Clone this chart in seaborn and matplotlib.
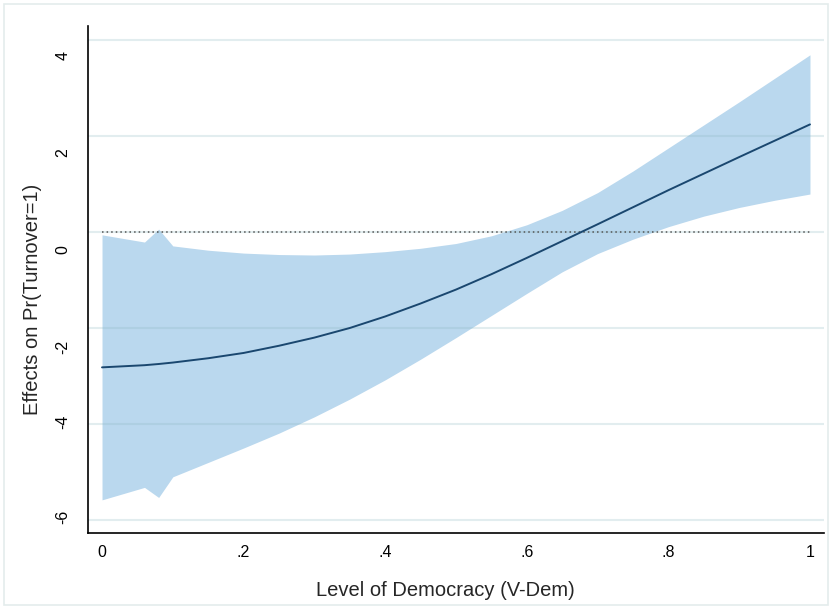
import numpy as np
import pandas as pd
import matplotlib
matplotlib.use("Agg")
import matplotlib.pyplot as plt
import seaborn as sns
from matplotlib.transforms import ScaledTranslation
from matplotlib.patches import Rectangle

# ---- data ----
democracy = [0.00, 0.06, 0.08, 0.10, 0.15, 0.20, 0.25, 0.30, 0.35, 0.40, 0.45,
             0.50, 0.55, 0.60, 0.65, 0.70, 0.75, 0.80, 0.85, 0.90, 0.95, 1.00]
effect = [-2.82, -2.775, -2.75, -2.72, -2.63, -2.52, -2.37, -2.20, -2.00, -1.76, -1.49,
          -1.20, -0.88, -0.54, -0.19, 0.16, 0.515, 0.87, 1.215, 1.56, 1.90, 2.24]
ci_upper = [-0.06, -0.21, 0.06, -0.29, -0.38, -0.44, -0.47, -0.48, -0.46, -0.41, -0.34,
            -0.24, -0.08, 0.15, 0.45, 0.82, 1.27, 1.75, 2.23, 2.71, 3.20, 3.69]
ci_lower = [-5.58, -5.32, -5.53, -5.10, -4.80, -4.50, -4.19, -3.85, -3.48, -3.08, -2.65,
            -2.20, -1.74, -1.28, -0.83, -0.45, -0.15, 0.11, 0.33, 0.51, 0.66, 0.79]

x_ticks = [0, 0.2, 0.4, 0.6, 0.8, 1.0]
x_tick_labels = ["0", ".2", ".4", ".6", ".8", "1"]
y_ticks = [-6, -4, -2, 0, 2, 4]
y_tick_labels = ["-6", "-4", "-2", "0", "2", "4"]

x_title = "Level of Democracy (V-Dem)"
y_title = "Effects on Pr(Turnover=1)"

df = pd.DataFrame({"democracy": democracy, "effect": effect,
                   "lower": ci_lower, "upper": ci_upper})

sns.set_theme(style="white")
plt.rcParams["font.family"] = ["Liberation Sans", "DejaVu Sans"]

W, H = 832, 609
fig = plt.figure(figsize=(W / 100, H / 100), dpi=100)
fig.patch.set_facecolor("white")
ax = fig.add_axes([88 / W, 1 - 533 / H, (824 - 88) / W, (533 - 26) / H])

ax.fill_between(df["democracy"], df["lower"], df["upper"],
                color="#bad8ee", lw=0, zorder=1)
for yt in y_ticks:
    ax.axhline(yt, color=(0.55, 0.72, 0.76, 0.25), lw=1.5, zorder=2)
ax.plot([df["democracy"].min(), df["democracy"].max()], [0, 0],
        color="#555555", lw=1.1, linestyle=(0, (1, 2)), zorder=2.5)
sns.lineplot(data=df, x="democracy", y="effect", color="#1a476f",
             lw=1.4, ax=ax, zorder=3)

ax.set_xlim(-0.0198, 1.0198)
ax.set_ylim(-6.27, 4.29)
ax.set_xticks(x_ticks)
ax.set_xticklabels(x_tick_labels)
ax.set_yticks(y_ticks)
ax.set_yticklabels(y_tick_labels, rotation=90, va="center")
ax.set_xlabel("")
ax.set_ylabel("")

for s in ["top", "right"]:
    ax.spines[s].set_visible(False)
for s in ["left", "bottom"]:
    ax.spines[s].set_color("black")
    ax.spines[s].set_linewidth(1.2)

ax.tick_params(axis="both", direction="out", length=6, width=1.2,
               color="#333333", labelsize=11.5, labelcolor="black")
ax.tick_params(axis="x", pad=2.5)
ax.tick_params(axis="y", pad=6.5)

# Stata-like vertical placement of rotated y tick labels
shifts = {"4": -16, "2": -17, "0": -18, "-2": -19, "-4": 2, "-6": 3}
for lab in ax.get_yticklabels():
    dy = shifts.get(lab.get_text(), 0)
    lab.set_transform(lab.get_transform() + ScaledTranslation(0, dy / 100, fig.dpi_scale_trans))

fig.text(445 / W, 1 - 590 / H, x_title, ha="center", va="center", fontsize=14.5)
fig.text(33 / W, 1 - 299 / H, y_title, ha="center", va="center",
         rotation=90, fontsize=14.5)

fig.patches.append(Rectangle((4 / W, 4 / H), 824 / W, 601 / H, transform=fig.transFigure,
                             fill=False, edgecolor="#e4ecec", lw=1.2))

fig.savefig("out.png", dpi=100, facecolor="white")
